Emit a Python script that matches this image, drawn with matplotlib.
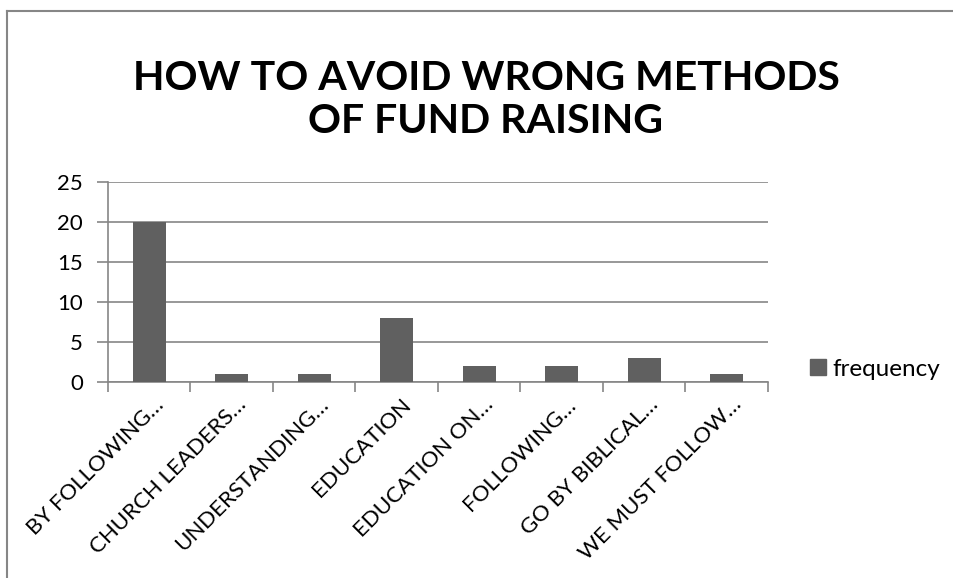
import matplotlib
matplotlib.use("Agg")
import matplotlib.pyplot as plt
import matplotlib.transforms as mtransforms
from matplotlib.lines import Line2D
from matplotlib.patches import Patch

categories = ["BY FOLLOWING…", "CHURCH LEADERS…", "UNDERSTANDING…", "EDUCATION",
              "EDUCATION ON…", "FOLLOWING…", "GO BY BIBLICAL…", "WE MUST FOLLOW…"]
frequency = [20, 1, 1, 8, 2, 2, 3, 1]
yticks = [0, 5, 10, 15, 20, 25]
title = "HOW TO AVOID WRONG METHODS\nOF FUND RAISING"

plt.rcParams['font.family'] = ['Lato', 'DejaVu Sans']
W, H = 954, 578
fig = plt.figure(figsize=(W / 100, H / 100), dpi=100)

# outer chart frame (cropped on right and bottom)
fig.add_artist(Line2D([7.5 / W, 7.5 / W], [0, 1 - 11 / H], color="#868686", lw=1.5, transform=fig.transFigure))
fig.add_artist(Line2D([7.5 / W, 1], [1 - 11 / H, 1 - 11 / H], color="#868686", lw=1.5, transform=fig.transFigure))

ax = fig.add_axes([108 / W, 1 - 382 / H, (768 - 108) / W, (382 - 182) / H])
grid_c = "#868686"
x = list(range(len(categories)))
ax.bar(x, frequency, width=0.4, color="#606060", zorder=3)
ax.set_xlim(-0.5, len(categories) - 0.5)
ax.set_ylim(0, 25)
ax.set_yticks(yticks)
ax.set_yticklabels([str(v) for v in yticks], fontsize=16)
ax.yaxis.grid(True, color=grid_c, lw=1.2, zorder=0)
for s in ["top", "right"]:
    ax.spines[s].set_visible(False)
ax.spines["left"].set_color(grid_c)
ax.spines["bottom"].set_color(grid_c)
ax.spines["left"].set_linewidth(1.2)
ax.spines["bottom"].set_linewidth(1.2)
ax.tick_params(axis="y", length=8, color=grid_c, width=1.2, pad=10)
# category boundary ticks
ax.set_xticks([i - 0.5 for i in range(len(categories) + 1)], minor=False)
ax.set_xticklabels([""] * (len(categories) + 1))
ax.tick_params(axis="x", which="major", length=7, color=grid_c, width=1.2)
ax.set_xticks(x, minor=True)
ax.set_xticklabels(categories, minor=True, rotation=45, ha="right", va="top",
                   rotation_mode="anchor", fontsize=16)
ax.tick_params(axis="x", which="minor", length=0, pad=9)
offset = mtransforms.ScaledTranslation(4 / 100, 0, fig.dpi_scale_trans)
for lab in ax.get_xticklabels(minor=True):
    lab.set_transform(lab.get_transform() + offset)

fig.text(486 / W, 1 - 100 / H, title, ha="center", va="center", fontsize=29.5,
         fontweight="bold", linespacing=1.2)

leg = fig.legend(handles=[Patch(color="#606060", label="frequency")], loc="center left",
                 bbox_to_anchor=(810 / W, 1 - 369 / H), frameon=False, fontsize=17.5,
                 handlelength=0.66, handleheight=0.66, handletextpad=0.25,
                 borderaxespad=0, borderpad=0)

fig.savefig("out.png", dpi=100)
